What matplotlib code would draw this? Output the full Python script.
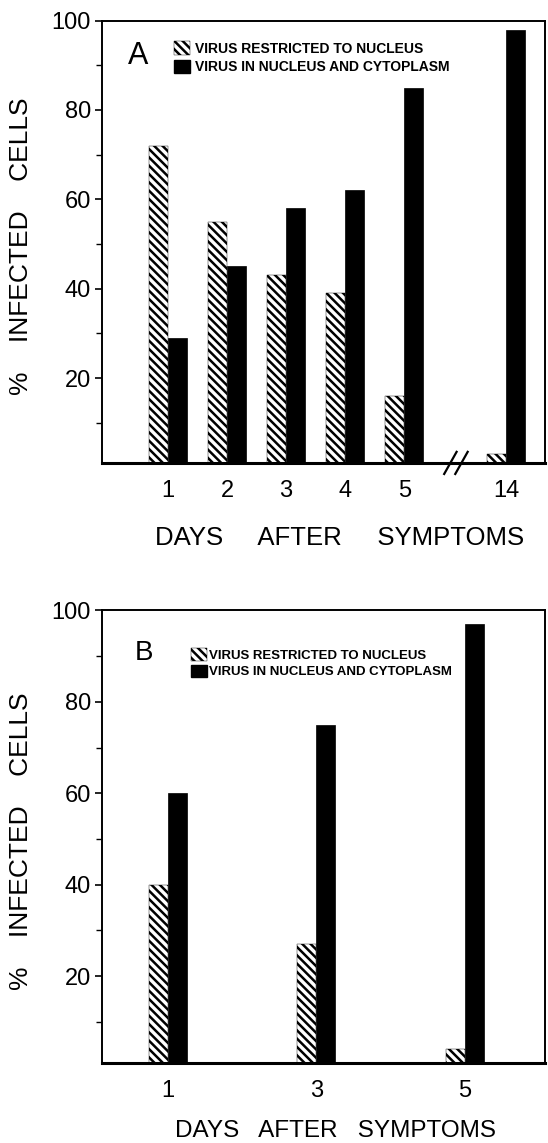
import matplotlib
matplotlib.use("Agg")
import matplotlib.pyplot as plt
from matplotlib.patches import Patch
import numpy as np

plt.rcParams['font.family'] = ['Liberation Sans', 'DejaVu Sans']
plt.rcParams['hatch.linewidth'] = 1.8

# Panel A data
days_a = ["1", "2", "3", "4", "5", "14"]
nucleus_a = [72, 55, 43, 39, 16, 3]
cyto_a = [29, 45, 58, 62, 85, 98]

# Panel B data
days_b = ["1", "3", "5"]
nucleus_b = [40, 27, 4]
cyto_b = [60, 75, 97]

legend_labels = ["VIRUS RESTRICTED TO NUCLEUS", "VIRUS IN NUCLEUS AND CYTOPLASM"]
ylab = "%    INFECTED    CELLS"

fig = plt.figure(figsize=(5.48, 11.43), dpi=100)
axA = fig.add_axes([0.186, 0.595, 0.809, 0.387])
axB = fig.add_axes([0.186, 0.070, 0.809, 0.396])

hatch = '\\\\\\\\'

def style(ax, ticklabels, pos):
    ax.set_ylim(1, 100)
    ax.set_yticks([20, 40, 60, 80, 100])
    ax.set_yticks([10, 30, 50, 70, 90], minor=True)
    ax.tick_params(axis='y', which='major', direction='out', length=5, width=1.2,
                   labelsize=17, pad=3)
    ax.tick_params(axis='y', which='minor', direction='out', length=4, width=1.0)
    ax.set_xticks(pos)
    ax.set_xticklabels(ticklabels)
    ax.tick_params(axis='x', length=0, labelsize=17, pad=12)
    for s in ['left', 'top', 'right']:
        ax.spines[s].set_linewidth(1.4)
    ax.spines['bottom'].set_linewidth(2.2)
    ax.set_ylabel(ylab, fontsize=19)
    ax.yaxis.set_label_coords(-0.155, 0.49)

# ---- Panel A ----
pos_a = np.array([0, 1, 2, 3, 4, 5.73])
w_a = 0.32
axA.bar(pos_a - w_a / 2, nucleus_a, width=w_a, color='white', edgecolor='black',
        linewidth=0.3, hatch=hatch)
axA.bar(pos_a + w_a / 2, cyto_a, width=w_a, color='black', edgecolor='black', linewidth=0.5)
axA.set_xlim(-1.12, 6.39)
style(axA, days_a, pos_a)
axA.set_xlabel("DAYS     AFTER     SYMPTOMS", fontsize=18.5)
axA.xaxis.set_label_coords(0.537, -0.142)
axA.text(0.058, 0.92, "A", transform=axA.transAxes, fontsize=22, ha='left', va='center')
# axis break marks
for dx in (0.0, 0.025):
    axA.plot([0.772 + dx, 0.800 + dx], [-0.025, 0.025], transform=axA.transAxes,
             color='black', lw=1.6, clip_on=False)
handles = [Patch(facecolor='white', edgecolor='black', hatch=hatch, linewidth=0.3),
           Patch(facecolor='black', edgecolor='black')]
axA.legend(handles, legend_labels, loc='upper left', bbox_to_anchor=(0.14, 0.975),
           frameon=False, prop={'weight': 'bold', 'size': 10},
           handlelength=1.2, handleheight=1.1, handletextpad=0.3, labelspacing=0.3,
           borderpad=0.2)

# ---- Panel B ----
pos_b = np.arange(len(days_b))
w_b = 0.128
axB.bar(pos_b - w_b / 2, nucleus_b, width=w_b, color='white', edgecolor='black',
        linewidth=0.3, hatch=hatch)
axB.bar(pos_b + w_b / 2, cyto_b, width=w_b, color='black', edgecolor='black', linewidth=0.5)
axB.set_xlim(-0.444, 2.54)
style(axB, days_b, pos_b)
axB.set_xlabel("DAYS   AFTER   SYMPTOMS", fontsize=17.5)
axB.xaxis.set_label_coords(0.526, -0.125)
axB.text(0.075, 0.905, "B", transform=axB.transAxes, fontsize=20, ha='left', va='center')
axB.legend(handles, legend_labels, loc='upper left', bbox_to_anchor=(0.18, 0.937),
           frameon=False, prop={'weight': 'bold', 'size': 9.5},
           handlelength=1.2, handleheight=1.1, handletextpad=0.2, labelspacing=0.2,
           borderpad=0.2)

fig.savefig("out.png", dpi=100)
